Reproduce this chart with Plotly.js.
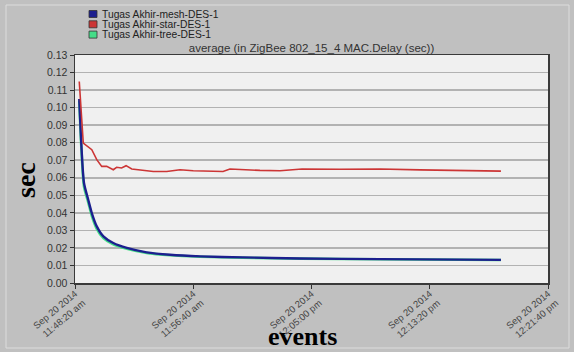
<!DOCTYPE html>
<html><head><meta charset="utf-8">
<script src="https://cdn.plot.ly/plotly-3.0.1.min.js"></script>
<style>html,body{margin:0;padding:0;background:#c0c0c0;}#chart{width:574px;height:352px;}</style>
</head><body><div id="chart"></div>
<script>
// ---- data ----
const seriesNames = ["Tugas Akhir-mesh-DES-1", "Tugas Akhir-star-DES-1", "Tugas Akhir-tree-DES-1"];
const seriesColors = ["#1c1f8e", "#cc3535", "#44dd88"];

const meshTimes = ["11:48:38","11:48:58","11:49:16","11:49:31","11:49:52","11:50:20","11:51:02","11:51:59","11:53:23","11:55:02","11:57:09","12:00:10","12:04:11","12:09:50","12:18:21"];
const meshValues = [0.1049,0.0570,0.0475,0.0399,0.0323,0.0266,0.0228,0.0200,0.0175,0.0161,0.0152,0.0146,0.0140,0.0136,0.0132];

const starTimes = ["11:48:38","11:48:55","11:49:31","11:49:52","11:50:13","11:50:34","11:51:02","11:51:16","11:51:37","11:51:56","11:52:20","11:52:55","11:53:51","11:54:48","11:55:44","11:56:40","11:57:51","11:58:46","11:59:15","11:59:58","12:01:22","12:02:47","12:04:03","12:04:20","12:07:00","12:09:50","12:12:39","12:15:28","12:18:21"];
const starValues = [0.1149,0.0798,0.0760,0.0703,0.0665,0.0665,0.0646,0.0660,0.0656,0.0669,0.0650,0.0646,0.0636,0.0636,0.0646,0.0640,0.0640,0.0636,0.0650,0.0646,0.0642,0.0640,0.0645,0.0650,0.0649,0.0650,0.0645,0.0640,0.0638];

const treeTimes = ["11:48:38","11:48:58","11:49:16","11:49:31","11:49:52","11:50:20","11:51:02","11:51:59","11:53:23","11:55:02","11:57:09","12:00:10","12:04:11","12:09:50","12:18:21"];
const treeValues = [0.1040,0.0550,0.0460,0.0383,0.0309,0.0256,0.0220,0.0195,0.0171,0.0158,0.0150,0.0144,0.0139,0.0135,0.0131];

const xTickTimes = ["11:48:20","11:56:40","12:05:00","12:13:20","12:21:40"];
const xTickLabels = ["Sep 20 2014<br>11:48:20 am","Sep 20 2014<br>11:56:40 am","Sep 20 2014<br>12:05:00 pm","Sep 20 2014<br>12:13:20 pm","Sep 20 2014<br>12:21:40 pm"];
const yTickValues = [0,0.01,0.02,0.03,0.04,0.05,0.06,0.07,0.08,0.09,0.10,0.11,0.12,0.13];

const day = "2014-09-20 ";
const d = a => a.map(t => day + t);

const traces = [
  {x: d(treeTimes), y: treeValues, name: seriesNames[2], mode: "lines", line: {color: seriesColors[2], width: 2.6, shape: "spline", smoothing: 0.6}, showlegend: false},
  {x: d(meshTimes), y: meshValues, name: seriesNames[0], mode: "lines", line: {color: seriesColors[0], width: 2.4, shape: "spline", smoothing: 0.6}, showlegend: false},
  {x: d(starTimes), y: starValues, name: seriesNames[1], mode: "lines", line: {color: seriesColors[1], width: 1.6}, showlegend: false}
];

// plot area in pixels: x 75..548, y 55..283
const L = 75, R = 548, T = 55, B = 283, W = 574, H = 352;
const px = p => (p - L) / (R - L);
const py = p => (B - p) / (B - T);

const shapes = [];
const annotations = [];
seriesNames.forEach((n, i) => {
  const yc = 14 + i * 10.3;
  shapes.push({type: "rect", xref: "paper", yref: "paper", x0: px(89), x1: px(97), y0: py(yc + 3.5), y1: py(yc - 3.5),
    fillcolor: seriesColors[i], line: {color: "#333", width: 0.8}});
  annotations.push({xref: "paper", yref: "paper", x: px(100), y: py(yc), xanchor: "left", yanchor: "middle",
    text: n, showarrow: false, font: {family: "Liberation Sans, Arial", size: 10.3, color: "#222"}});
});
annotations.push({xref: "paper", yref: "paper", x: px(25), y: py(180), text: "<b>sec</b>", textangle: -90, showarrow: false,
  xanchor: "center", yanchor: "middle", font: {family: "Liberation Serif, Times New Roman", size: 28, color: "#000"}});
annotations.push({xref: "paper", yref: "paper", x: px(302), y: py(336), text: "<b>events</b>", showarrow: false,
  xanchor: "center", yanchor: "middle", font: {family: "Liberation Serif, Times New Roman", size: 26, color: "#000"}});
shapes.push({type: "rect", xref: "paper", yref: "paper", x0: px(6), x1: px(569), y0: py(5), y1: py(348),
  line: {color: "#dcdcdc", width: 1}, fillcolor: "rgba(0,0,0,0)", layer: "below"});

const layout = {
  width: W, height: H,
  margin: {l: L, r: W - R, t: T, b: H - B, pad: 0},
  paper_bgcolor: "#c0c0c0", plot_bgcolor: "#f0f0f0",
  font: {family: "Liberation Sans, Arial", size: 10, color: "#333"},
  title: {text: "average (in ZigBee 802_15_4 MAC.Delay (sec))", x: 0.5, xref: "paper", y: 1 - 48 / H, yanchor: "middle",
    font: {family: "Liberation Sans, Arial", size: 11.5, color: "#333"}},
  showlegend: false,
  xaxis: {type: "date", range: [day + "11:48:20", day + "12:21:40"], tickvals: d(xTickTimes), ticktext: xTickLabels,
    tickangle: -40, ticks: "outside", ticklen: 4, tickcolor: "#333", showgrid: false, zeroline: false,
    showline: true, linecolor: "#3a3a3a", linewidth: 1.5, mirror: true, ticklabelstandoff: -4,
    tickfont: {family: "Liberation Sans, Arial", size: 9.5, color: "#444"}},
  yaxis: {range: [0, 0.13], tickvals: yTickValues, tickformat: ".2f", ticks: "outside", ticklen: 4, tickcolor: "#333",
    showgrid: true, gridcolor: "#b2b2b2", gridwidth: 1.5, zeroline: false,
    showline: true, linecolor: "#3a3a3a", linewidth: 1.5, mirror: true,
    tickfont: {family: "Liberation Sans, Arial", size: 10.5, color: "#333"}},
  shapes: shapes,
  annotations: annotations
};

Plotly.newPlot("chart", traces, layout, {displayModeBar: false, staticPlot: true});
</script>
</body></html>
